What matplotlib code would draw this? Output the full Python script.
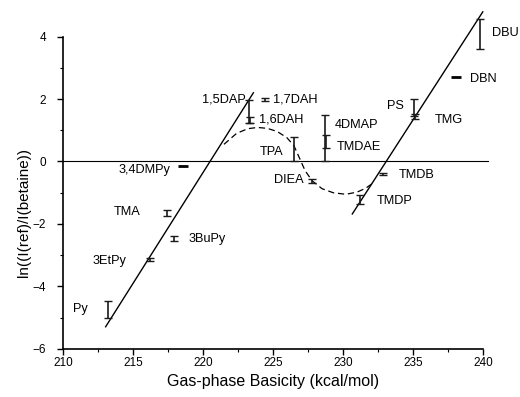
import matplotlib
matplotlib.use("Agg")
import matplotlib.pyplot as plt
from matplotlib.ticker import MultipleLocator

plt.rcParams['font.family'] = ['Liberation Sans', 'DejaVu Sans']

# measured bases with error bars
names = ['Py', '3EtPy', 'TMA', '3BuPy', '1,5DAP', '1,6DAH', '1,7DAH', 'TPA',
         'DIEA', '4DMAP', 'TMDAE', 'TMDP', 'TMDB', 'PS', 'TMG', 'DBU']
gb = [213.2, 216.2, 217.45, 217.93, 223.3, 223.35, 224.43, 226.5,
      227.76, 228.71, 228.78, 231.21, 232.88, 235.1, 235.15, 239.79]
lnr = [-4.74, -3.13, -1.64, -2.46, 1.6, 1.33, 1.98, 0.4,
       -0.62, 0.75, 0.64, -1.21, -0.39, 1.73, 1.44, 4.09]
err = [0.28, 0.04, 0.09, 0.08, 0.38, 0.09, 0.04, 0.38,
       0.07, 0.73, 0.21, 0.15, 0.03, 0.28, 0.08, 0.48]

# label anchor points (left edge, vertical centre)
lab_x = [210.7, 212.1, 213.66, 218.95, 219.9, 224.02, 225.02, 224.07,
         225.07, 229.43, 229.55, 232.4, 233.95, 233.17, 236.57, 240.62]
lab_y = [-4.73, -3.2, -1.62, -2.48, 2.0, 1.36, 1.98, 0.32,
         -0.6, 1.18, 0.48, -1.28, -0.43, 1.79, 1.34, 4.12]

# bases shown only as a dash
dash_names = ['3,4DMPy', 'DBN']
dash_gb = [218.6, 238.05]
dash_lnr = [-0.13, 2.72]
dash_lab_x = [213.95, 239.07]
dash_lab_y = [-0.27, 2.65]

# fitted lines
left_fit_x = [213.05, 223.6]
left_fit_y = [-5.29, 2.2]
right_fit_x = [230.66, 239.98]
right_fit_y = [-1.68, 4.79]

# dashed guide curve
curve_x = [221.5, 222.4, 223.2, 223.9, 224.6, 225.3, 226.0, 226.5, 226.9,
           227.3, 227.8, 228.5, 229.3, 230.2, 231.0, 231.6, 232.05]
curve_y = [0.55, 0.9, 1.05, 1.09, 1.06, 0.96, 0.76, 0.5, 0.1,
           -0.3, -0.62, -0.87, -1.0, -1.05, -0.98, -0.86, -0.72]

fig = plt.figure(figsize=(5.2, 3.97), dpi=100)
ax = fig.add_axes([0.121, 0.121, 0.808, 0.787])

ax.plot([210, 240.38], [0, 0], color='black', lw=0.8, clip_on=False)
ax.plot(left_fit_x, left_fit_y, color='black', lw=1.0, clip_on=False)
ax.plot(right_fit_x, right_fit_y, color='black', lw=1.0, clip_on=False)
ax.plot(curve_x, curve_y, color='black', lw=0.9, dashes=(5, 3), clip_on=False)

eb = ax.errorbar(gb, lnr, yerr=err, fmt='none', ecolor='#1a1a1a', elinewidth=1.2,
                 capsize=3.2, capthick=1.0)
for art in eb.lines[1] + eb.lines[2]:
    art.set_clip_on(False)

ax.plot(dash_gb, dash_lnr, ls='none', marker='_', ms=7.5, mew=2.0,
        color='black', clip_on=False)

for n, x, y in zip(names, lab_x, lab_y):
    ax.text(x, y, n, fontsize=9.2, ha='left', va='center')
for n, x, y in zip(dash_names, dash_lab_x, dash_lab_y):
    ax.text(x, y, n, fontsize=9.2, ha='left', va='center')

ax.set_xlim(210, 240)
ax.set_ylim(-6, 4)
ax.xaxis.set_major_locator(MultipleLocator(5))
ax.xaxis.set_minor_locator(MultipleLocator(2.5))
ax.yaxis.set_major_locator(MultipleLocator(2))
ax.yaxis.set_minor_locator(MultipleLocator(1))
ax.tick_params(which='major', length=4, width=1.0, labelsize=8.5)
ax.tick_params(axis='x', which='major', pad=1.5)
ax.tick_params(axis='y', which='major', pad=8)
ax.tick_params(which='minor', length=2.5, width=0.8)

for s in ['top', 'right']:
    ax.spines[s].set_visible(False)
for s in ['left', 'bottom']:
    ax.spines[s].set_linewidth(1.2)

ax.set_xlabel('Gas-phase Basicity (kcal/mol)', fontsize=11.5, labelpad=4)
ax.set_ylabel('ln((I(ref)/I(betaine))', fontsize=11)
ax.yaxis.set_label_coords(-0.075, 0.436)

fig.savefig('out.png', dpi=100)
